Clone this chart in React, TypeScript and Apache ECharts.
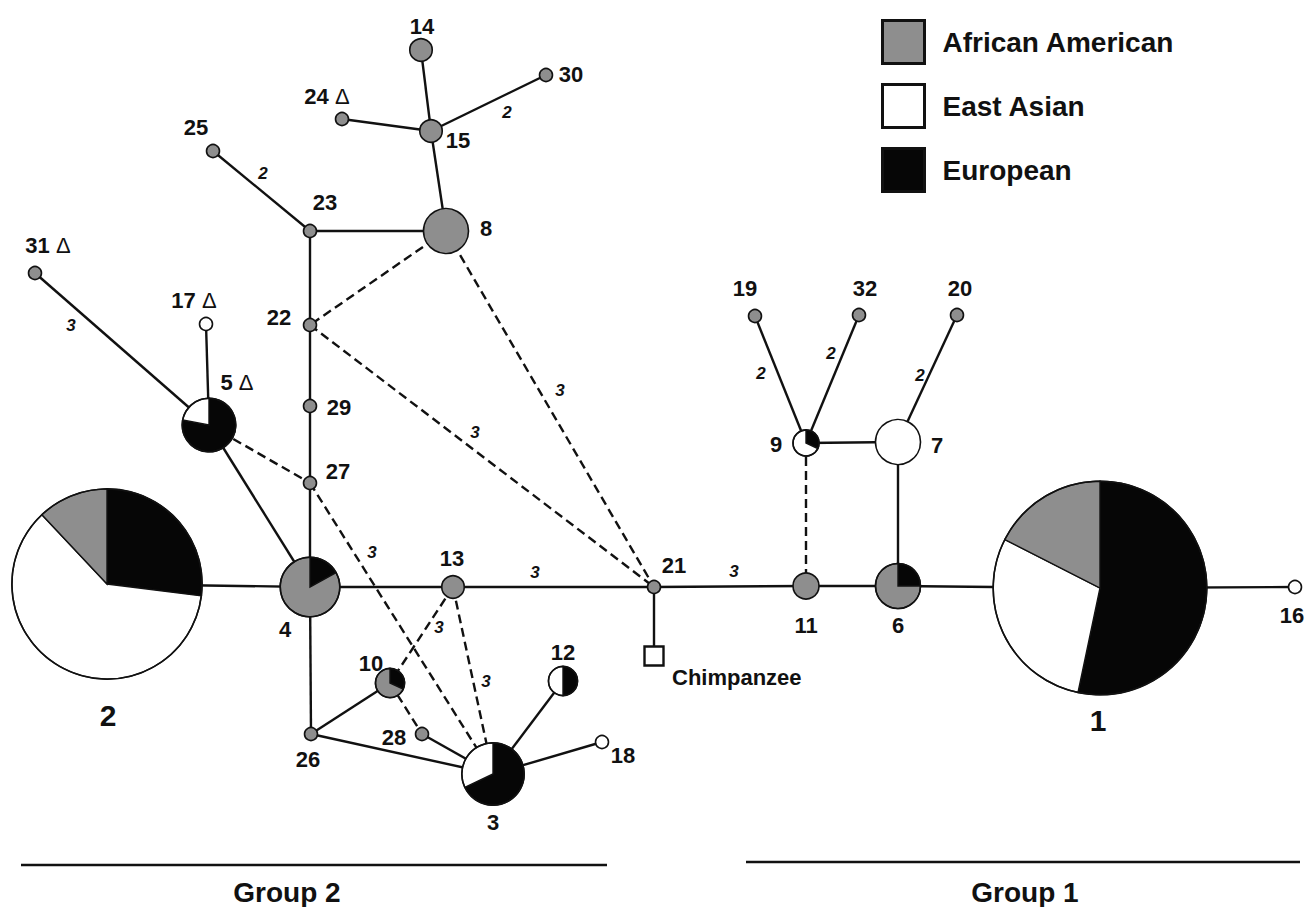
import React, { useEffect, useRef } from "react";
import * as echarts from "echarts";

const WIDTH = 1309;
const HEIGHT = 907;
const FONT = '"Liberation Sans", Arial, Helvetica, sans-serif';

// ---------- DATA ----------
// Haplotypes 1..32 (index i -> haplotype i+1)
const haplotypes = [1, 2, 3, 4, 5, 6, 7, 8, 9, 10, 11, 12, 13, 14, 15, 16, 17, 18, 19, 20, 21, 22, 23, 24, 25, 26, 27, 28, 29, 30, 31, 32];
// network layout coordinates of each haplotype
const hapX = [1100, 107, 493, 310, 209, 898, 898, 446, 806, 390, 806, 563, 453, 421, 431, 1295, 206, 602, 755, 957, 654, 310, 310, 342, 213, 311, 310, 422, 310, 546, 35, 859];
const hapY = [588, 584, 774, 587, 425, 586, 442, 231, 443, 683, 586, 681, 587, 50, 131, 587, 324, 742, 316, 315, 587, 325, 231, 119, 151, 734, 483, 734, 406, 75, 273, 315];
// haplotype frequency (circle area is proportional)
const hapCount = [270, 214, 23, 21, 17, 12, 12, 12, 4, 5, 4, 5, 3, 3, 3, 1, 1, 1, 1, 1, 1, 1, 1, 1, 1, 1, 1, 1, 1, 1, 1, 1];
// population composition (%)
const pctAfricanAmerican = [17.5, 12, 0, 83, 0, 75, 0, 100, 0, 68, 100, 0, 100, 100, 100, 0, 0, 0, 100, 100, 100, 100, 100, 100, 100, 100, 100, 100, 100, 100, 100, 100];
const pctEastAsian = [29.2, 61, 32, 0, 22, 0, 100, 0, 68, 0, 0, 50, 0, 0, 0, 100, 100, 100, 0, 0, 0, 0, 0, 0, 0, 0, 0, 0, 0, 0, 0, 0];
const pctEuropean = [53.3, 27, 68, 17, 78, 25, 0, 0, 32, 32, 0, 50, 0, 0, 0, 0, 0, 0, 0, 0, 0, 0, 0, 0, 0, 0, 0, 0, 0, 0, 0, 0];
const deltaMarked = [5, 17, 24, 31];

// outgroup (0 = Chimpanzee)
const chimpanzeeName = "Chimpanzee";
const chimpanzeeX = 654;
const chimpanzeeY = 656;

// network edges (0 = Chimpanzee)
const edgeFrom = [2, 4, 13, 21, 11, 6, 1, 4, 4, 27, 29, 22, 23, 8, 15, 15, 15, 23, 5, 5, 4, 26, 26, 28, 3, 3, 21, 9, 7, 9, 9, 7, 8, 22, 8, 5, 27, 13, 13, 10, 9];
const edgeTo = [4, 13, 21, 11, 6, 1, 16, 5, 27, 29, 22, 23, 8, 15, 14, 24, 30, 25, 31, 17, 26, 10, 3, 3, 12, 18, 0, 7, 6, 19, 32, 20, 22, 21, 21, 27, 3, 10, 3, 28, 11];
const edgeDashed = [0, 0, 0, 0, 0, 0, 0, 0, 0, 0, 0, 0, 0, 0, 0, 0, 0, 0, 0, 0, 0, 0, 0, 0, 0, 0, 0, 0, 0, 0, 0, 0, 1, 1, 1, 1, 1, 1, 1, 1, 1];
// mutational steps along each edge
const edgeSteps = [1, 1, 3, 3, 1, 1, 1, 1, 1, 1, 1, 1, 1, 1, 1, 1, 2, 2, 3, 1, 1, 1, 1, 1, 1, 1, 1, 1, 1, 2, 2, 2, 1, 3, 3, 1, 3, 3, 3, 1, 1];

const populations = ["African American", "East Asian", "European"];

// ---------- LAYOUT / STYLE ----------
const COLORS = { aa: "#8e8e8e", ea: "#ffffff", eu: "#060606" };
const STROKE = "#111111";
const RADIUS_UNIT = 6.5;
// node-label offsets from node centre
const labelDx = [-2, 1, 0, -25, 28, 0, 39, 40, -30, -19, 0, 0, -1, 1, 27, -3, -12, 21, -10, 3, 20, -31, 15, -15, -17, -3, 28, -28, 29, 25, 13, 6];
const labelDy = [132, 131, 48, 42, -43, 39, 3, -3, 1, -20, 39, -29, -29, -24, 9, 28, -24, 13, -28, -27, -22, -8, -29, -23, -24, 25, -12, 3, 1, -1, -28, -27];
// step-label anchor positions (same order as edges, null for 1 step)
const stepLabelX = [null, null, 535, 734, null, null, null, null, null, null, null, null, null, null, null, null, 507, 263, 71, null, null, null, null, null, null, null, null, null, null, 761, 831, 920, null, 475, 560, null, 372, 439, 486, null, null];
const stepLabelY = [null, null, 572, 571, null, null, null, null, null, null, null, null, null, null, null, null, 112, 173, 325, null, null, null, null, null, null, null, null, null, null, 373, 353, 375, null, 432, 390, null, 552, 627, 681, null, null];

function nodeXY(id: number): [number, number] {
  if (id === 0) return [chimpanzeeX, chimpanzeeY];
  return [hapX[id - 1], hapY[id - 1]];
}

export default function App() {
  const ref = useRef<HTMLDivElement>(null);

  useEffect(() => {
    if (!ref.current) return;
    const chart = echarts.init(ref.current, undefined, { renderer: "svg" });

    const edgeData = edgeFrom.map((f, i) => {
      const a = nodeXY(f);
      const b = nodeXY(edgeTo[i]);
      return [a[0], a[1], b[0], b[1], edgeDashed[i]];
    });

    const nodeData = haplotypes.map((h, i) => [hapX[i], hapY[i], hapCount[i], pctAfricanAmerican[i], pctEastAsian[i], pctEuropean[i], h]);

    const stepData: number[][] = [];
    edgeSteps.forEach((s, i) => {
      if (s > 1 && stepLabelX[i] != null) stepData.push([stepLabelX[i] as number, stepLabelY[i] as number, s]);
    });

    const labelData = haplotypes.map((h, i) => [hapX[i] + labelDx[i], hapY[i] + labelDy[i], h]);

    const option: any = {
      animation: false,
      backgroundColor: "#ffffff",
      grid: { left: 0, right: 0, top: 0, bottom: 0, containLabel: false },
      xAxis: { type: "value", min: 0, max: WIDTH, show: false },
      yAxis: { type: "value", min: 0, max: HEIGHT, inverse: true, show: false },
      tooltip: { show: false },
      legend: {
        orient: "vertical",
        left: 876,
        top: 14,
        itemWidth: 42,
        itemHeight: 43,
        itemGap: 18,
        icon: "rect",
        selectedMode: false,
        data: populations,
        itemStyle: { borderColor: STROKE, borderWidth: 3, opacity: 1 },
        textStyle: { fontSize: 28, fontWeight: "bold", color: "#111", fontFamily: FONT, padding: [0, 0, 0, 13] },
      },
      series: [
        ...populations.map((p, k) => ({
          name: p,
          type: "scatter",
          data: [],
          itemStyle: { color: [COLORS.aa, COLORS.ea, COLORS.eu][k], borderColor: STROKE, borderWidth: 3, opacity: 1 },
        })),
        {
          name: "edges",
          type: "custom",
          silent: true,
          data: edgeData,
          encode: { x: [0, 2], y: [1, 3] },
          renderItem: (params: any, api: any) => {
            const p1 = api.coord([api.value(0), api.value(1)]);
            const p2 = api.coord([api.value(2), api.value(3)]);
            const dashed = api.value(4) === 1;
            return {
              type: "line",
              shape: { x1: p1[0], y1: p1[1], x2: p2[0], y2: p2[1] },
              style: { stroke: STROKE, lineWidth: 2.4, lineDash: dashed ? [9, 5] : null, fill: null },
            };
          },
          z: 1,
        },
        {
          name: "haplotypes",
          type: "custom",
          silent: true,
          data: nodeData,
          encode: { x: 0, y: 1 },
          renderItem: (params: any, api: any) => {
            const c = api.coord([api.value(0), api.value(1)]);
            const r = api.size([RADIUS_UNIT * Math.sqrt(api.value(2)), 0])[0];
            const parts: [number, string][] = [
              [api.value(5), COLORS.eu],
              [api.value(4), COLORS.ea],
              [api.value(3), COLORS.aa],
            ];
            const nz = parts.filter((p) => p[0] > 0);
            const total = nz.reduce((s, p) => s + p[0], 0);
            const children: any[] = [];
            if (nz.length === 1) {
              children.push({
                type: "circle",
                shape: { cx: c[0], cy: c[1], r },
                style: { fill: nz[0][1], stroke: STROKE, lineWidth: 1.6 },
              });
            } else {
              let a = -Math.PI / 2;
              nz.forEach((p) => {
                const e = a + (p[0] / total) * Math.PI * 2;
                children.push({
                  type: "sector",
                  shape: { cx: c[0], cy: c[1], r0: 0, r, startAngle: a, endAngle: e, clockwise: true },
                  style: { fill: p[1], stroke: STROKE, lineWidth: 1.4 },
                });
                a = e;
              });
              children.push({
                type: "circle",
                shape: { cx: c[0], cy: c[1], r },
                style: { fill: null, stroke: STROKE, lineWidth: 1.6 },
              });
            }
            return { type: "group", children };
          },
          z: 2,
        },
        {
          name: "outgroup",
          type: "custom",
          silent: true,
          data: [[chimpanzeeX, chimpanzeeY]],
          encode: { x: 0, y: 1 },
          renderItem: (params: any, api: any) => {
            const c = api.coord([api.value(0), api.value(1)]);
            const s = api.size([19, 0])[0];
            return {
              type: "group",
              children: [
                {
                  type: "rect",
                  shape: { x: c[0] - s / 2, y: c[1] - s / 2, width: s, height: s },
                  style: { fill: "#fff", stroke: STROKE, lineWidth: 2.4 },
                },
                {
                  type: "text",
                  x: c[0] + 18,
                  y: c[1] + 21,
                  style: {
                    text: chimpanzeeName,
                    fill: "#111",
                    fontSize: 22,
                    fontWeight: "bold",
                    fontFamily: FONT,
                    align: "left",
                    verticalAlign: "middle",
                  },
                },
              ],
            };
          },
          z: 3,
        },
        {
          name: "stepLabels",
          type: "custom",
          silent: true,
          data: stepData,
          encode: { x: 0, y: 1 },
          renderItem: (params: any, api: any) => {
            const c = api.coord([api.value(0), api.value(1)]);
            return {
              type: "text",
              x: c[0],
              y: c[1],
              style: {
                text: String(api.value(2)),
                fill: "#111",
                fontSize: 17,
                fontWeight: "bold",
                fontStyle: "italic",
                fontFamily: FONT,
                align: "center",
                verticalAlign: "middle",
              },
            };
          },
          z: 3,
        },
        {
          name: "nodeLabels",
          type: "custom",
          silent: true,
          data: labelData,
          encode: { x: 0, y: 1 },
          renderItem: (params: any, api: any) => {
            const c = api.coord([api.value(0), api.value(1)]);
            const h = api.value(2);
            const big = h === 1 || h === 2;
            const delta = deltaMarked.indexOf(h) >= 0;
            const size = big ? 30 : 22;
            return {
              type: "text",
              x: c[0],
              y: c[1],
              style: {
                text: delta ? `{b|${h}} {d|\u0394}` : String(h),
                rich: delta
                  ? {
                      b: { fontSize: size, fontWeight: "bold", fontFamily: FONT, fill: "#111" },
                      d: { fontSize: size, fontWeight: "normal", fontFamily: FONT, fill: "#111" },
                    }
                  : undefined,
                fill: "#111",
                fontSize: size,
                fontWeight: "bold",
                fontFamily: FONT,
                align: "center",
                verticalAlign: "middle",
              },
            };
          },
          z: 3,
        },
      ],
      graphic: [
        { type: "line", shape: { x1: 21, y1: 865, x2: 607, y2: 865 }, style: { stroke: STROKE, lineWidth: 2.6 } },
        { type: "line", shape: { x1: 746, y1: 862, x2: 1300, y2: 862 }, style: { stroke: STROKE, lineWidth: 2.6 } },
        {
          type: "text",
          x: 287,
          y: 892,
          style: { text: "Group 2", fill: "#111", fontSize: 28, fontWeight: "bold", fontFamily: FONT, align: "center", verticalAlign: "middle" },
        },
        {
          type: "text",
          x: 1025,
          y: 892,
          style: { text: "Group 1", fill: "#111", fontSize: 28, fontWeight: "bold", fontFamily: FONT, align: "center", verticalAlign: "middle" },
        },
      ],
    };

    chart.setOption(option);
    return () => chart.dispose();
  }, []);

  return (
    <div
      ref={ref}
      style={{ position: "absolute", left: 0, top: 0, width: WIDTH, height: HEIGHT, background: "#fff" }}
    />
  );
}
